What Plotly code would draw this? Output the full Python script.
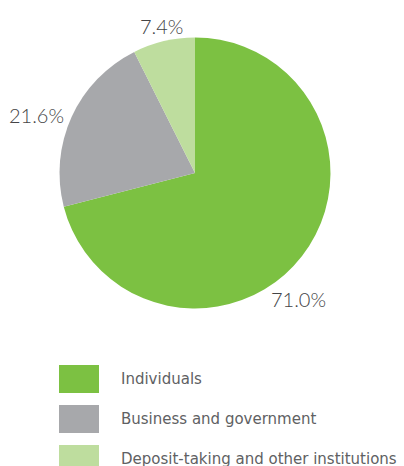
import plotly.graph_objects as go

# Segment data
labels = ["Individuals", "Business and government", "Deposit-taking and other institutions"]
values = [71.0, 21.6, 7.4]
colors = ["#7CC142", "#A7A8AB", "#BEDD9E"]

# Pixel centres of the percentage labels (x, y from top-left)
label_pos = [(298.5, 299), (36, 115), (161.5, 25.5)]

W, H = 404, 466

fig = go.Figure()
fig.add_trace(go.Pie(
    labels=labels,
    values=values,
    marker=dict(colors=colors, line=dict(width=0)),
    sort=False,
    direction="clockwise",
    rotation=0,
    textinfo="none",
    showlegend=False,
    hoverinfo="label+value",
    domain=dict(x=[59.3 / W, 330.7 / W], y=[1 - 308.5 / H, 1 - 37.5 / H]),
))

# Percentage labels outside the pie
for v, (px, py) in zip(values, label_pos):
    fig.add_annotation(xref="paper", yref="paper",
                       x=px / W, y=1 - py / H,
                       xanchor="center", yanchor="middle",
                       text=f"{v:.1f}%", showarrow=False,
                       font=dict(family="Lato, Open Sans, sans-serif", size=20,
                                 color="#444446", weight=300))

# Hand-built legend: swatch + label for each segment
sw_x0, sw_x1 = 59, 99
top0, step, sw_h = 365, 40, 28
for i, (lab, col) in enumerate(zip(labels, colors)):
    y0 = top0 + i * step
    fig.add_shape(type="rect", xref="paper", yref="paper",
                  x0=sw_x0 / W, x1=sw_x1 / W,
                  y0=1 - (y0 + sw_h) / H, y1=1 - y0 / H,
                  fillcolor=col, line=dict(width=0))
    fig.add_annotation(xref="paper", yref="paper",
                       x=119 / W, y=1 - (y0 + sw_h / 2) / H,
                       xanchor="left", yanchor="middle",
                       text=lab, showarrow=False,
                       font=dict(family="DejaVu Sans, sans-serif", size=15, color="#606163"))

fig.update_layout(
    width=W, height=H,
    margin=dict(l=0, r=0, t=0, b=0),
    paper_bgcolor="white",
    plot_bgcolor="white",
)

fig.write_html("out.html")
